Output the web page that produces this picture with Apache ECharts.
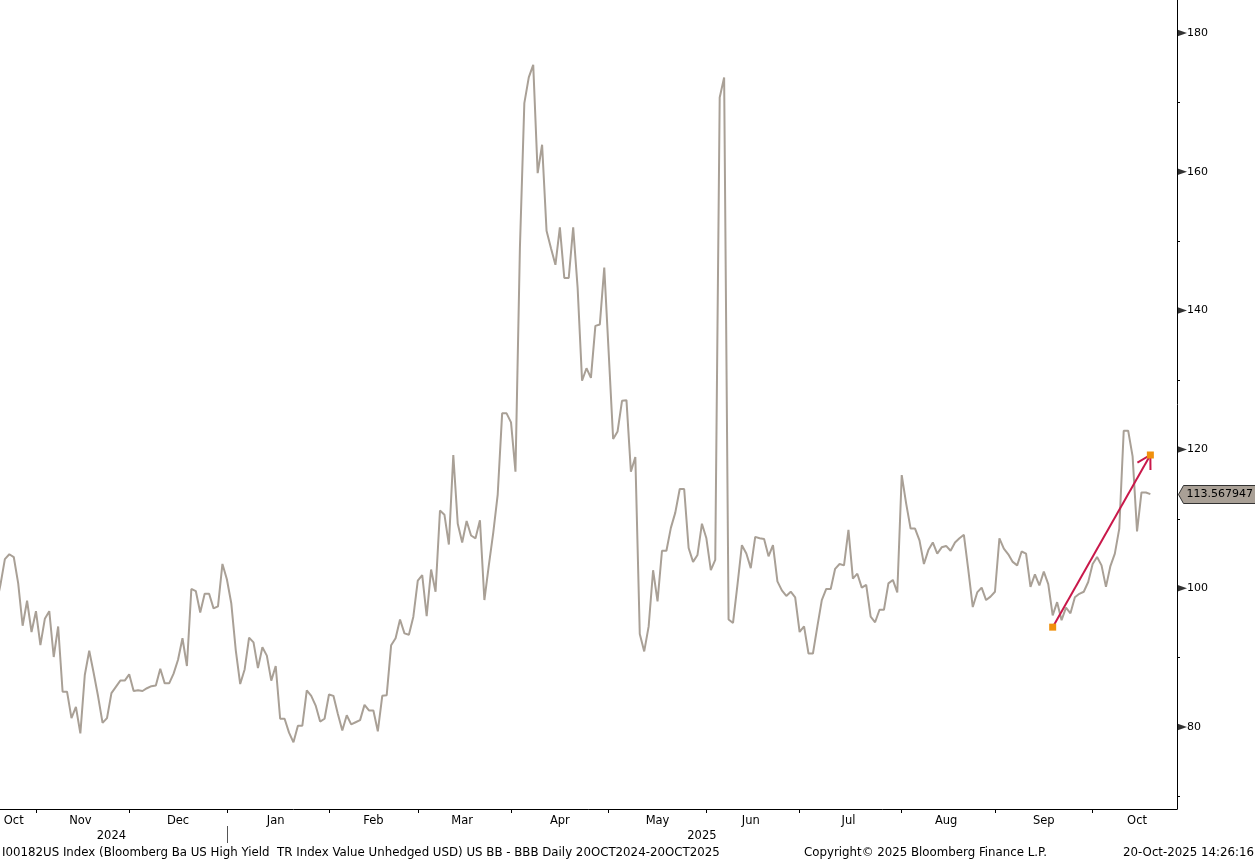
<!DOCTYPE html>
<html>
<head>
<meta charset="utf-8">
<title>I00182US Index - US BB - BBB</title>
<script src="https://cdn.jsdelivr.net/npm/echarts@6/dist/echarts.min.js"></script>
<style>
  html, body { margin: 0; padding: 0; background: #fff; }
  #chart { width: 1255px; height: 861px; }
</style>
</head>
<body>
<div id="chart"></div>
<script>
// daily (weekday) values, 21 Oct 2024 .. 20 Oct 2025
const startDate = '2024-10-21'
const endDate = '2025-10-20'
const paddingDays = 6 // empty weekdays between the last point and the axis

const valuesQ4_2024 = [
  97.5, 100.5, 104.2, 104.9, 104.5, 100.7, 94.6, 98.2, 93.7, 96.7,
  91.8, 95.6, 96.7, 90.1, 94.5, 85.1, 85.1, 81.3, 82.9, 79.1,
  87.5, 91.0, 87.8, 84.4, 80.6, 81.3, 84.9, 85.8, 86.7, 86.7,
  87.6, 85.2, 85.3, 85.2, 85.6, 85.9, 86.0, 88.4, 86.3, 86.3,
  87.7, 89.7, 92.8, 88.8, 99.9, 99.6, 96.5, 99.2, 99.2, 97.1,
  97.4, 103.5
]
const valuesQ1_2025 = [
  101.3, 97.8, 91.1, 86.2, 88.3, 92.9, 92.2, 88.5, 91.5, 90.3,
  86.7, 88.8, 81.2, 81.2, 79.2, 77.8, 80.2, 80.2, 85.3, 84.5,
  83.1, 80.8, 81.2, 84.7, 84.5, 81.9, 79.5, 81.7, 80.4, 80.7,
  81.0, 83.2, 82.4, 82.4, 79.4, 84.5, 84.6, 91.8, 92.8, 95.5,
  93.5, 93.3, 95.9, 101.1, 101.9, 96.0, 102.7, 99.5, 111.2, 110.6,
  106.3, 119.2, 109.3, 106.6, 109.7, 107.6, 107.2, 109.8, 98.3, 103.3,
  108.0, 113.5, 125.2, 125.2
]
const valuesQ2_2025 = [
  123.9, 116.8, 149.0, 169.9, 173.6, 175.4, 159.8, 163.9, 151.5, 149.0,
  146.6, 152.0, 144.7, 144.7, 152.0, 143.3, 129.9, 131.7, 130.3, 137.8,
  138.0, 146.2, 133.9, 121.5, 122.6, 127.0, 127.1, 116.8, 118.9, 93.4,
  90.9, 94.5, 102.6, 98.1, 105.4, 105.4, 108.7, 110.9, 114.3, 114.3,
  105.8, 103.8, 104.8, 109.3, 107.2, 102.6, 104.1, 170.7, 173.6, 95.5,
  95.0, 100.5, 106.2, 105.0, 102.9, 107.4, 107.2, 107.1, 104.6, 106.2,
  101.0, 99.7, 98.9, 99.5, 98.7
]
const valuesQ3_2025 = [
  93.7, 94.5, 90.6, 90.6, 94.5, 98.3, 99.9, 99.9, 102.8, 103.5,
  103.3, 108.4, 101.4, 102.1, 100.1, 100.5, 95.9, 95.1, 96.9, 96.9,
  100.7, 101.2, 99.4, 116.3, 112.2, 108.6, 108.6, 106.9, 103.5, 105.5,
  106.6, 105.0, 105.9, 106.1, 105.4, 106.6, 107.2, 107.7, 102.6, 97.3,
  99.4, 100.1, 98.3, 98.8, 99.5, 107.2, 105.7, 104.9, 103.8, 103.3,
  105.3, 105.0, 100.2, 102.0, 100.4, 102.4, 100.6, 96.1, 98.0, 95.4,
  97.2, 96.4, 98.7, 99.2, 99.5, 100.9
]
const valuesOct2025 = [
  103.5, 104.5, 103.3, 100.2, 103.2, 105.0, 108.6, 122.7, 122.7, 119.0,
  108.2, 113.8, 113.8, 113.567947
]

// trend arrow drawn on the chart
const arrowDates = ['2025-09-18', '2025-10-20']
const arrowValues = [94.4, 119.2]

const majorTicks = [80, 100, 120, 140, 160, 180]
const minorTicks = [70, 90, 110, 130, 150, 170]
const monthNames = ['Jan', 'Feb', 'Mar', 'Apr', 'May', 'Jun', 'Jul', 'Aug', 'Sep', 'Oct', 'Nov', 'Dec']

const footerLeft = 'I00182US Index (Bloomberg Ba US High Yield  TR Index Value Unhedged USD) US BB - BBB Daily 20OCT2024-20OCT2025'
const footerMid = 'Copyright\u00a9 2025 Bloomberg Finance L.P.'
const footerRight = '20-Oct-2025 14:26:16'

const values = [].concat(valuesQ4_2024, valuesQ1_2025, valuesQ2_2025, valuesQ3_2025, valuesOct2025)
const lastValue = values[values.length - 1]

const font = '"DejaVu Sans", Verdana, sans-serif'
const footerFont = '11.8px ' + font
const lineColor = '#a9a096'
const arrowColor = '#c9184a'
const squareColor = '#f0900c'

function buildDays() {
  const days = []
  const d = new Date(startDate + 'T00:00:00Z')
  const end = new Date(endDate + 'T00:00:00Z')
  let extra = 0
  while (d <= end || extra < paddingDays) {
    const wd = d.getUTCDay()
    if (wd !== 0 && wd !== 6) {
      days.push(d.toISOString().slice(0, 10))
      if (d > end) extra++
    }
    d.setUTCDate(d.getUTCDate() + 1)
  }
  return days
}

const days = buildDays()

// first index of each period, and the index half way through it for the label
function periods(keyLength) {
  const starts = new Set()
  const labels = new Set()
  let first = 0
  for (let i = 1; i <= days.length; i++) {
    if (i === days.length || days[i].slice(0, keyLength) !== days[i - 1].slice(0, keyLength)) {
      labels.add(Math.floor((first + i) / 2))
      if (i < days.length) starts.add(i)
      first = i
    }
  }
  return { starts, labels }
}

const months = periods(7)
const years = periods(4)

const chart = echarts.init(document.getElementById('chart'), null, { renderer: 'canvas' })

chart.setOption({
  animation: false,
  backgroundColor: '#fff',
  grid: { left: -4, right: 78, top: 0, bottom: 52, outerBoundsMode: 'none' },
  xAxis: [
    {
      type: 'category',
      data: days,
      boundaryGap: false,
      axisLine: { show: true, lineStyle: { color: '#000', width: 1 } },
      axisTick: {
        show: true,
        length: 4,
        interval: (i) => months.starts.has(i),
        lineStyle: { color: '#000' }
      },
      axisLabel: {
        interval: (i) => months.labels.has(i),
        formatter: (v) => monthNames[+v.slice(5, 7) - 1],
        margin: 6,
        color: '#000',
        fontFamily: font,
        fontSize: 11.5
      },
      splitLine: { show: false }
    },
    {
      type: 'category',
      data: days,
      boundaryGap: false,
      position: 'bottom',
      offset: 17,
      axisLine: { show: false },
      axisTick: {
        show: true,
        length: 17,
        interval: (i) => years.starts.has(i),
        lineStyle: { color: '#555' }
      },
      axisLabel: {
        interval: (i) => years.labels.has(i),
        formatter: (v) => v.slice(0, 4),
        margin: 4,
        color: '#000',
        fontFamily: font,
        fontSize: 11.5
      },
      splitLine: { show: false }
    }
  ],
  yAxis: {
    type: 'value',
    position: 'right',
    min: 68.2,
    max: 184.75,
    axisLine: { show: true, lineStyle: { color: '#000', width: 1 } },
    axisTick: {
      show: true,
      customValues: minorTicks,
      length: 3,
      lineStyle: { color: '#000' }
    },
    axisLabel: {
      customValues: majorTicks,
      margin: 10,
      color: '#000',
      fontFamily: font,
      fontSize: 11
    },
    splitLine: { show: false }
  },
  series: [
    {
      name: 'US BB - BBB',
      type: 'line',
      data: values,
      symbol: 'none',
      lineStyle: { color: lineColor, width: 2 },
      z: 2
    },
    {
      // triangle markers on the major ticks
      type: 'scatter',
      data: majorTicks.map((v) => [days.length - 1, v]),
      symbol: 'triangle',
      symbolSize: [7, 10],
      symbolRotate: -90,
      symbolOffset: [5, 0],
      itemStyle: { color: '#000' },
      clip: false,
      silent: true,
      z: 5
    },
    {
      // last value tag on the axis
      type: 'custom',
      data: [[days[days.length - 1], lastValue]],
      clip: false,
      silent: true,
      z: 6,
      renderItem(params, api) {
        const p = api.coord([api.value(0), api.value(1)])
        const x = p[0] + 1.5
        const y = Math.round(p[1]) + 0.5
        const h = 9
        const w = api.getWidth() + 5
        return {
          type: 'group',
          children: [
            {
              type: 'polygon',
              shape: { points: [[x, y], [x + 5, y - h], [w, y - h], [w, y + h], [x + 5, y + h]] },
              style: { fill: lineColor, stroke: '#333', lineWidth: 1 }
            },
            {
              type: 'text',
              style: {
                x: x + 8,
                y: y,
                text: String(api.value(1)),
                fill: '#000',
                font: '11px ' + font,
                verticalAlign: 'middle',
                align: 'left'
              }
            }
          ]
        }
      }
    },
    {
      // trend arrow
      type: 'custom',
      data: [[arrowDates[0], arrowValues[0], arrowDates[1], arrowValues[1]]],
      encode: { x: [0, 2], y: [1, 3] },
      clip: false,
      silent: true,
      z: 7,
      renderItem(params, api) {
        const a = api.coord([api.value(0), api.value(1)])
        const b = api.coord([api.value(2), api.value(3)])
        const back = Math.atan2(a[1] - b[1], a[0] - b[0])
        const len = 15
        const spread = Math.PI / 6
        const w1 = [b[0] + len * Math.cos(back + spread), b[1] + len * Math.sin(back + spread)]
        const w2 = [b[0] + len * Math.cos(back - spread), b[1] + len * Math.sin(back - spread)]
        const sq = 7
        return {
          type: 'group',
          children: [
            {
              type: 'line',
              shape: { x1: a[0], y1: a[1], x2: b[0], y2: b[1] },
              style: { stroke: arrowColor, lineWidth: 2 }
            },
            {
              type: 'polyline',
              shape: { points: [w1, b, w2] },
              style: { stroke: arrowColor, lineWidth: 2, fill: null }
            },
            {
              type: 'rect',
              shape: { x: a[0] - sq / 2, y: a[1] - sq / 2, width: sq, height: sq },
              style: { fill: squareColor }
            },
            {
              type: 'rect',
              shape: { x: b[0] - sq / 2, y: b[1] - sq / 2, width: sq, height: sq },
              style: { fill: squareColor }
            }
          ]
        }
      }
    }
  ],
  graphic: [
    { type: 'text', left: 2, top: 847, style: { text: footerLeft, fill: '#000', font: footerFont } },
    { type: 'text', left: 804, top: 847, style: { text: footerMid, fill: '#000', font: footerFont } },
    { type: 'text', right: 1, top: 847, style: { text: footerRight, fill: '#000', font: footerFont } }
  ]
})

window.addEventListener('resize', () => chart.resize())
</script>
</body>
</html>
